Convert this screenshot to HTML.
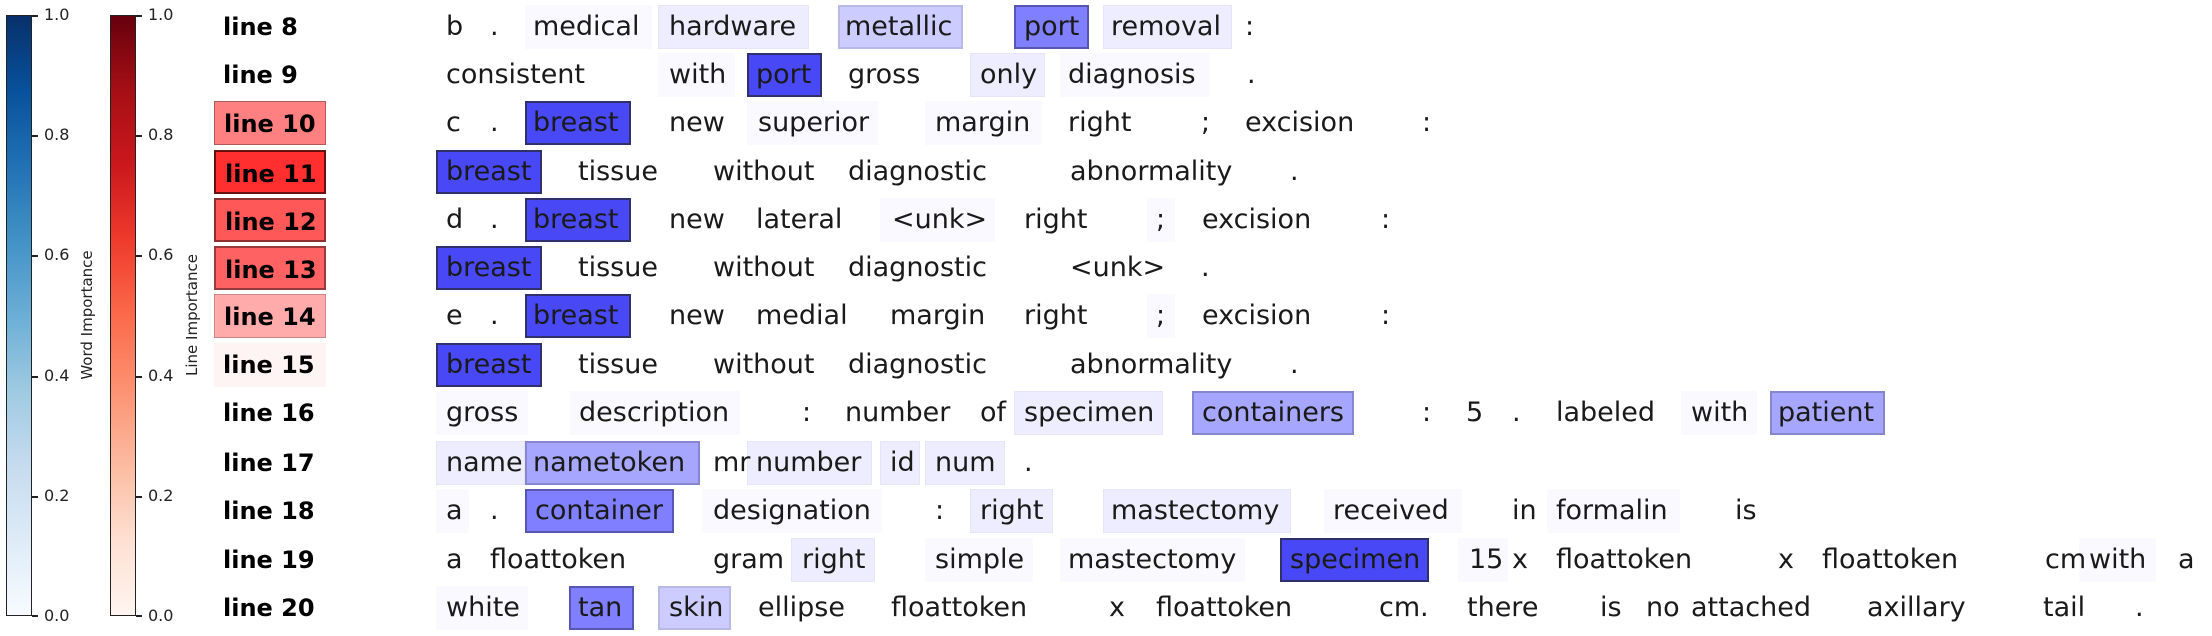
<!DOCTYPE html>
<html><head><meta charset="utf-8"><style>
body{margin:0;width:2212px;height:636px;background:#fff;position:relative;overflow:hidden;font-family:"DejaVu Sans","Liberation Sans",sans-serif;}
.w{position:absolute;font-size:27px;line-height:44px;height:44px;color:#1a1a1a;white-space:nowrap}
.b{position:absolute;height:44px;box-sizing:border-box}
.s{background:rgba(40,40,245,0.85);border:2px solid rgba(40,40,60,0.75)}
.m{background:rgba(0,0,255,0.5);border:2px solid rgba(40,40,80,0.45)}
.m2{background:rgba(0,0,255,0.35);border:2px solid rgba(60,60,90,0.3)}
.l{background:rgba(0,0,255,0.2);border:2px solid rgba(80,80,100,0.15)}
.f{background:rgba(0,0,255,0.07);border:1px solid rgba(0,0,0,0.03)}
.ff{background:rgba(0,0,255,0.025)}
.lab{position:absolute;left:214px;width:112px;height:44px;box-sizing:border-box;font-weight:bold;font-size:24px;line-height:44px;padding-left:9px;color:#000}
.r8{top:5px}.r9{top:53px}.r10{top:101px}.r11{top:150px}.r12{top:198px}.r13{top:246px}.r14{top:294px}.r15{top:343px}.r16{top:391px}.r17{top:441px}.r18{top:489px}.r19{top:538px}.r20{top:586px}
.cb{position:absolute;top:15px;height:601px;width:26px;box-sizing:border-box;border:1.5px solid #222}
.tk{position:absolute;font-size:16px;color:#222;line-height:16px}
.tm{position:absolute;width:6px;height:1.5px;background:#222}
.ax{position:absolute;font-size:15px;color:#222;transform:rotate(-90deg);transform-origin:center;white-space:nowrap;width:200px;text-align:center}
</style></head><body>
<div class="cb" style="left:6px;background:linear-gradient(to top,#f7fbff,#deebf7,#c6dbef,#9ecae1,#6baed6,#4292c6,#2171b5,#08519c,#08306b)"></div>
<div class="cb" style="left:110px;background:linear-gradient(to top,#fff5f0,#fee0d2,#fcbba1,#fc9272,#fb6a4a,#ef3b2c,#cb181d,#a50f15,#67000d)"></div>
<div class="tm" style="left:32px;top:15px"></div><div class="tm" style="left:32px;top:135px"></div><div class="tm" style="left:32px;top:255px"></div><div class="tm" style="left:32px;top:376px"></div><div class="tm" style="left:32px;top:496px"></div><div class="tm" style="left:32px;top:615px"></div>
<div class="tm" style="left:136px;top:15px"></div><div class="tm" style="left:136px;top:135px"></div><div class="tm" style="left:136px;top:255px"></div><div class="tm" style="left:136px;top:376px"></div><div class="tm" style="left:136px;top:496px"></div><div class="tm" style="left:136px;top:615px"></div>
<div class="tk" style="left:44px;top:7px">1.0</div><div class="tk" style="left:44px;top:127px">0.8</div><div class="tk" style="left:44px;top:247px">0.6</div><div class="tk" style="left:44px;top:368px">0.4</div><div class="tk" style="left:44px;top:488px">0.2</div><div class="tk" style="left:44px;top:608px">0.0</div>
<div class="tk" style="left:148px;top:7px">1.0</div><div class="tk" style="left:148px;top:127px">0.8</div><div class="tk" style="left:148px;top:247px">0.6</div><div class="tk" style="left:148px;top:368px">0.4</div><div class="tk" style="left:148px;top:488px">0.2</div><div class="tk" style="left:148px;top:608px">0.0</div>
<div class="ax" style="left:-13px;top:306px">Word Importance</div>
<div class="ax" style="left:92px;top:306px">Line Importance</div>
<div class="lab r8">line 8</div>
<div class="lab r9">line 9</div>
<div class="lab r10" style="background:#ff8080;border:1.5px solid rgba(0,0,0,0.3)">line 10</div>
<div class="lab r11" style="background:#ff2f2f;border:2px solid rgba(0,0,0,0.6)">line 11</div>
<div class="lab r12" style="background:#ff5858;border:2px solid rgba(0,0,0,0.45)">line 12</div>
<div class="lab r13" style="background:#ff6262;border:2px solid rgba(0,0,0,0.4)">line 13</div>
<div class="lab r14" style="background:#ffabab;border:1.5px solid rgba(0,0,0,0.2)">line 14</div>
<div class="lab r15" style="background:#fff4f4">line 15</div>
<div class="lab r16">line 16</div><div class="lab r17">line 17</div><div class="lab r18">line 18</div><div class="lab r19">line 19</div><div class="lab r20">line 20</div>
<div class="b ff r8" style="left:525px;width:127px"></div>
<div class="b f r8" style="left:658px;width:151px"></div>
<div class="b l r8" style="left:838px;width:125px"></div>
<div class="b m r8" style="left:1014px;width:75px"></div>
<div class="b f r8" style="left:1103px;width:129px"></div>
<div class="b ff r9" style="left:658px;width:77px"></div>
<div class="b s r9" style="left:747px;width:75px"></div>
<div class="b f r9" style="left:970px;width:75px"></div>
<div class="b ff r9" style="left:1060px;width:150px"></div>
<div class="b s r10" style="left:525px;width:106px"></div>
<div class="b ff r10" style="left:747px;width:131px"></div>
<div class="b ff r10" style="left:925px;width:117px"></div>
<div class="b s r11" style="left:436px;width:106px"></div>
<div class="b s r12" style="left:525px;width:106px"></div>
<div class="b ff r12" style="left:880px;width:115px"></div>
<div class="b ff r12" style="left:1147px;width:28px"></div>
<div class="b s r13" style="left:436px;width:106px"></div>
<div class="b s r14" style="left:525px;width:106px"></div>
<div class="b ff r14" style="left:1147px;width:28px"></div>
<div class="b s r15" style="left:436px;width:106px"></div>
<div class="b ff r16" style="left:436px;width:92px"></div>
<div class="b ff r16" style="left:570px;width:170px"></div>
<div class="b f r16" style="left:1014px;width:149px"></div>
<div class="b m2 r16" style="left:1192px;width:162px"></div>
<div class="b ff r16" style="left:1681px;width:76px"></div>
<div class="b m2 r16" style="left:1770px;width:115px"></div>
<div class="b f r17" style="left:436px;width:89px"></div>
<div class="b m2 r17" style="left:525px;width:175px"></div>
<div class="b f r17" style="left:747px;width:125px"></div>
<div class="b f r17" style="left:880px;width:40px"></div>
<div class="b f r17" style="left:925px;width:80px"></div>
<div class="b ff r18" style="left:436px;width:33px"></div>
<div class="b m r18" style="left:525px;width:149px"></div>
<div class="b ff r18" style="left:702px;width:180px"></div>
<div class="b f r18" style="left:970px;width:83px"></div>
<div class="b f r18" style="left:1103px;width:188px"></div>
<div class="b ff r18" style="left:1324px;width:138px"></div>
<div class="b ff r18" style="left:1547px;width:133px"></div>
<div class="b f r19" style="left:791px;width:84px"></div>
<div class="b ff r19" style="left:925px;width:108px"></div>
<div class="b ff r19" style="left:1060px;width:185px"></div>
<div class="b s r19" style="left:1280px;width:149px"></div>
<div class="b ff r19" style="left:1458px;width:50px"></div>
<div class="b ff r19" style="left:2079px;width:77px"></div>
<div class="b ff r20" style="left:436px;width:92px"></div>
<div class="b m r20" style="left:569px;width:65px"></div>
<div class="b l r20" style="left:658px;width:73px"></div>
<span class="w r8" style="left:446px">b</span><span class="w r8" style="left:490px">.</span><span class="w r8" style="left:533px">medical</span><span class="w r8" style="left:669px">hardware</span><span class="w r8" style="left:845px">metallic</span><span class="w r8" style="left:1024px">port</span><span class="w r8" style="left:1111px">removal</span><span class="w r8" style="left:1245px">:</span>
<span class="w r9" style="left:446px">consistent</span><span class="w r9" style="left:669px">with</span><span class="w r9" style="left:756px">port</span><span class="w r9" style="left:848px">gross</span><span class="w r9" style="left:980px">only</span><span class="w r9" style="left:1068px">diagnosis</span><span class="w r9" style="left:1247px">.</span>
<span class="w r10" style="left:446px">c</span><span class="w r10" style="left:490px">.</span><span class="w r10" style="left:533px">breast</span><span class="w r10" style="left:669px">new</span><span class="w r10" style="left:758px">superior</span><span class="w r10" style="left:935px">margin</span><span class="w r10" style="left:1068px">right</span><span class="w r10" style="left:1201px">;</span><span class="w r10" style="left:1245px">excision</span><span class="w r10" style="left:1422px">:</span>
<span class="w r11" style="left:446px">breast</span><span class="w r11" style="left:578px">tissue</span><span class="w r11" style="left:713px">without</span><span class="w r11" style="left:848px">diagnostic</span><span class="w r11" style="left:1070px">abnormality</span><span class="w r11" style="left:1290px">.</span>
<span class="w r12" style="left:446px">d</span><span class="w r12" style="left:490px">.</span><span class="w r12" style="left:533px">breast</span><span class="w r12" style="left:669px">new</span><span class="w r12" style="left:756px">lateral</span><span class="w r12" style="left:892px">&lt;unk&gt;</span><span class="w r12" style="left:1024px">right</span><span class="w r12" style="left:1156px">;</span><span class="w r12" style="left:1202px">excision</span><span class="w r12" style="left:1381px">:</span>
<span class="w r13" style="left:446px">breast</span><span class="w r13" style="left:578px">tissue</span><span class="w r13" style="left:713px">without</span><span class="w r13" style="left:848px">diagnostic</span><span class="w r13" style="left:1070px">&lt;unk&gt;</span><span class="w r13" style="left:1201px">.</span>
<span class="w r14" style="left:446px">e</span><span class="w r14" style="left:490px">.</span><span class="w r14" style="left:533px">breast</span><span class="w r14" style="left:669px">new</span><span class="w r14" style="left:756px">medial</span><span class="w r14" style="left:890px">margin</span><span class="w r14" style="left:1024px">right</span><span class="w r14" style="left:1156px">;</span><span class="w r14" style="left:1202px">excision</span><span class="w r14" style="left:1381px">:</span>
<span class="w r15" style="left:446px">breast</span><span class="w r15" style="left:578px">tissue</span><span class="w r15" style="left:713px">without</span><span class="w r15" style="left:848px">diagnostic</span><span class="w r15" style="left:1070px">abnormality</span><span class="w r15" style="left:1290px">.</span>
<span class="w r16" style="left:446px">gross</span><span class="w r16" style="left:579px">description</span><span class="w r16" style="left:802px">:</span><span class="w r16" style="left:845px">number</span><span class="w r16" style="left:980px">of</span><span class="w r16" style="left:1024px">specimen</span><span class="w r16" style="left:1202px">containers</span><span class="w r16" style="left:1422px">:</span><span class="w r16" style="left:1466px">5</span><span class="w r16" style="left:1512px">.</span><span class="w r16" style="left:1556px">labeled</span><span class="w r16" style="left:1691px">with</span><span class="w r16" style="left:1778px">patient</span>
<span class="w r17" style="left:446px">name</span><span class="w r17" style="left:533px">nametoken</span><span class="w r17" style="left:713px">mr</span><span class="w r17" style="left:756px">number</span><span class="w r17" style="left:890px">id</span><span class="w r17" style="left:935px">num</span><span class="w r17" style="left:1024px">.</span>
<span class="w r18" style="left:446px">a</span><span class="w r18" style="left:490px">.</span><span class="w r18" style="left:535px">container</span><span class="w r18" style="left:713px">designation</span><span class="w r18" style="left:935px">:</span><span class="w r18" style="left:980px">right</span><span class="w r18" style="left:1111px">mastectomy</span><span class="w r18" style="left:1333px">received</span><span class="w r18" style="left:1512px">in</span><span class="w r18" style="left:1556px">formalin</span><span class="w r18" style="left:1735px">is</span>
<span class="w r19" style="left:446px">a</span><span class="w r19" style="left:490px">floattoken</span><span class="w r19" style="left:713px">gram</span><span class="w r19" style="left:802px">right</span><span class="w r19" style="left:935px">simple</span><span class="w r19" style="left:1068px">mastectomy</span><span class="w r19" style="left:1290px">specimen</span><span class="w r19" style="left:1469px">15</span><span class="w r19" style="left:1512px">x</span><span class="w r19" style="left:1556px">floattoken</span><span class="w r19" style="left:1778px">x</span><span class="w r19" style="left:1822px">floattoken</span><span class="w r19" style="left:2045px">cm</span><span class="w r19" style="left:2089px">with</span><span class="w r19" style="left:2178px">a</span>
<span class="w r20" style="left:446px">white</span><span class="w r20" style="left:578px">tan</span><span class="w r20" style="left:669px">skin</span><span class="w r20" style="left:758px">ellipse</span><span class="w r20" style="left:891px">floattoken</span><span class="w r20" style="left:1109px">x</span><span class="w r20" style="left:1156px">floattoken</span><span class="w r20" style="left:1379px">cm</span><span class="w r20" style="left:1420px">.</span><span class="w r20" style="left:1467px">there</span><span class="w r20" style="left:1600px">is</span><span class="w r20" style="left:1646px">no</span><span class="w r20" style="left:1691px">attached</span><span class="w r20" style="left:1867px">axillary</span><span class="w r20" style="left:2043px">tail</span><span class="w r20" style="left:2135px">.</span>
</body></html>
